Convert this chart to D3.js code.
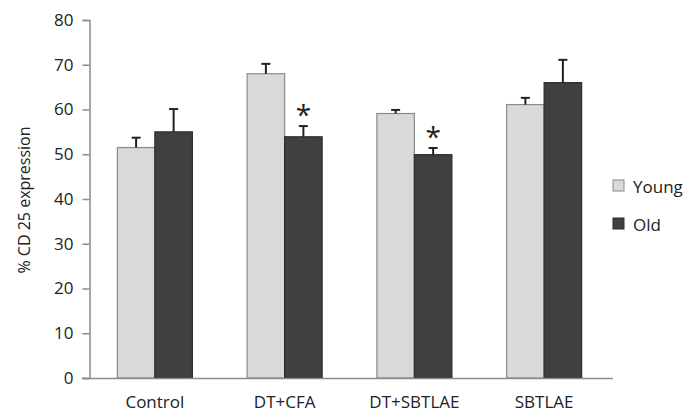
<!DOCTYPE html>
<html><head><meta charset="utf-8">
<script src="https://cdn.jsdelivr.net/npm/d3@7"></script>
<style>body{margin:0;background:#fff}svg{display:block}text{font-family:"Open Sans",sans-serif;fill:#222}</style>
</head><body>
<script>
const categories = ["Control","DT+CFA","DT+SBTLAE","SBTLAE"];
const seriesNames = ["Young","Old"];
const youngValues = [51.5, 68.0, 59.1, 61.1];
const youngErrors = [2.2, 2.2, 0.8, 1.5];
const oldValues = [55.0, 53.9, 49.9, 66.0];
const oldErrors = [5.1, 2.4, 1.5, 5.1];
const oldSignificant = [false, true, true, false];
const yTicks = [0,10,20,30,40,50,60,70,80];
const yLabel = "% CD 25 expression";

const W=700,H=416;
const svg=d3.select("body").append("svg").attr("width",W).attr("height",H);
const y=d3.scaleLinear().domain([0,80]).range([378,20]);
const x=d3.scaleBand().domain(categories).range([90,609]);
const xs=d3.scaleBand().domain(seriesNames).range([0,75]);
const colors={Young:"#d9d9d9",Old:"#404040"};
const strokes={Young:"#8a8a8a",Old:"#2a2a2a"};

// y axis
const ya=svg.append("g").attr("transform","translate(89.5,0)")
  .call(d3.axisLeft(y).tickValues(yTicks).tickSize(7).tickPadding(9));
ya.select(".domain").attr("stroke","#8c8c8c").attr("stroke-width",1.5);
ya.selectAll(".tick line").attr("stroke","#8c8c8c").attr("stroke-width",1.5);
ya.selectAll(".tick text").attr("font-size",17).attr("font-family","Open Sans, sans-serif").attr("fill","#222");

const data=[];
categories.forEach((c,i)=>{
  data.push({c,s:"Young",v:youngValues[i],e:youngErrors[i],sig:false});
  data.push({c,s:"Old",v:oldValues[i],e:oldErrors[i],sig:oldSignificant[i]});
});
const off=(x.bandwidth()-75)/2;
const g=svg.append("g");
g.selectAll("rect").data(data).join("rect")
  .attr("x",d=>x(d.c)+off+xs(d.s))
  .attr("y",d=>y(d.v)).attr("width",xs.bandwidth()).attr("height",d=>y(0)-y(d.v))
  .attr("fill",d=>colors[d.s]).attr("stroke",d=>strokes[d.s]).attr("stroke-width",1.2);
// error bars
data.forEach(d=>{
  const cx=x(d.c)+off+xs(d.s)+xs.bandwidth()/2;
  g.append("line").attr("x1",cx).attr("x2",cx).attr("y1",y(d.v)).attr("y2",y(d.v+d.e)).attr("stroke","#222").attr("stroke-width",2);
  g.append("line").attr("x1",cx-4.5).attr("x2",cx+4.5).attr("y1",y(d.v+d.e)).attr("y2",y(d.v+d.e)).attr("stroke","#222").attr("stroke-width",2);
  if(d.sig) g.append("text").attr("x",cx).attr("y",y(d.v+d.e)-1).attr("text-anchor","middle").attr("font-size",28).attr("fill","#222").text("*");
});
// x axis
svg.append("line").attr("x1",82).attr("x2",613).attr("y1",378.5).attr("y2",378.5).attr("stroke","#8c8c8c").attr("stroke-width",1.5);
svg.append("g").selectAll("text").data(categories).join("text")
  .attr("x",c=>x(c)+x.bandwidth()/2).attr("y",408).attr("text-anchor","middle").attr("font-size",17).text(c=>c);
// y label
svg.append("text").attr("transform","translate(30,200) rotate(-90)").attr("text-anchor","middle").attr("font-size",16).text(yLabel);
// legend
const lg=svg.append("g").selectAll("g").data(seriesNames).join("g").attr("transform",(s,i)=>`translate(613,${180+i*38})`);
lg.append("rect").attr("width",11).attr("height",11).attr("fill",s=>colors[s]).attr("stroke",s=>strokes[s]);
lg.append("text").attr("x",20).attr("y",12.5).attr("font-size",17).text(s=>s);
</script>
</body></html>
